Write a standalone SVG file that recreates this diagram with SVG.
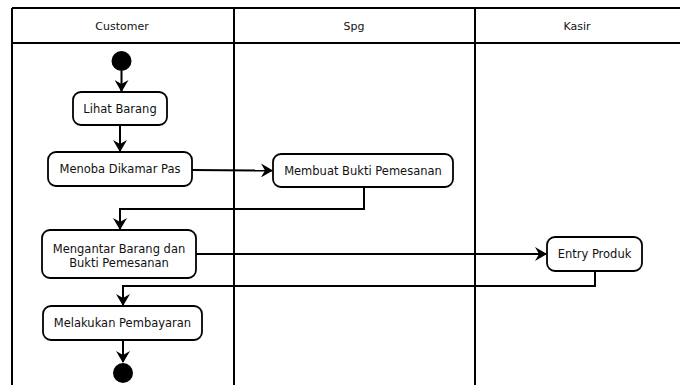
<svg xmlns="http://www.w3.org/2000/svg" width="680" height="385" viewBox="0 0 680 385">
<defs>
<style>
.lane{fill:none;stroke:#000;stroke-width:2}
.node rect{fill:#fff;stroke:#000;stroke-width:1.8}
.node text,.hdr{font-family:"DejaVu Sans",Verdana,sans-serif;font-size:11.5px;fill:#111;text-anchor:middle;dominant-baseline:central}
.hdr{font-size:11px}
.conn path{fill:none;stroke:#000;stroke-width:2;marker-end:url(#arr)}
</style>
<marker id="arr" viewBox="0 0 12 14" refX="11" refY="7" markerWidth="12" markerHeight="14" markerUnits="userSpaceOnUse" orient="auto">
<path d="M0,0 L12,7 L0,14 L4,7 Z" fill="#000"/>
</marker>
</defs>
<rect width="680" height="385" fill="#fff"/>
<g id="lanes">
<path class="lane" d="M12,8 H680 M12,43 H680 M12,8 V385 M234,8 V385 M475,8 V385"/>
<text class="hdr" x="122" y="26">Customer</text>
<text class="hdr" x="354" y="26">Spg</text>
<text class="hdr" x="577" y="26">Kasir</text>
</g>
<g id="connectors" class="conn">
<path d="M121.5,71 V91"/>
<path d="M120,125 V151"/>
<path d="M192,170 L272,170.5"/>
<path d="M364,187 V209 H120 V229"/>
<path d="M196,254 L546,254"/>
<path d="M595,271 V286 H123 V305"/>
<path d="M123,340 V362"/>
</g>
<g id="start"><circle cx="121.5" cy="61" r="10" fill="#000"/></g>
<g id="lihat" class="node"><rect x="73" y="92" width="94" height="33" rx="8"/><text x="120" y="108.5">Lihat Barang</text></g>
<g id="menoba" class="node"><rect x="48" y="152" width="144" height="34" rx="8"/><text x="120" y="169">Menoba Dikamar Pas</text></g>
<g id="membuat" class="node"><rect x="273" y="154" width="180" height="33" rx="8"/><text x="363" y="170.5">Membuat Bukti Pemesanan</text></g>
<g id="mengantar" class="node"><rect x="42" y="230" width="154" height="48" rx="8"/><text x="119" y="248.5">Mengantar Barang dan</text><text x="119" y="262.5">Bukti Pemesanan</text></g>
<g id="entry" class="node"><rect x="547" y="237" width="95" height="34" rx="8"/><text x="594.5" y="254">Entry Produk</text></g>
<g id="melakukan" class="node"><rect x="43" y="306" width="159" height="34" rx="8"/><text x="122.5" y="323">Melakukan Pembayaran</text></g>
<g id="end"><circle cx="123" cy="373" r="10" fill="#000"/></g>
</svg>
